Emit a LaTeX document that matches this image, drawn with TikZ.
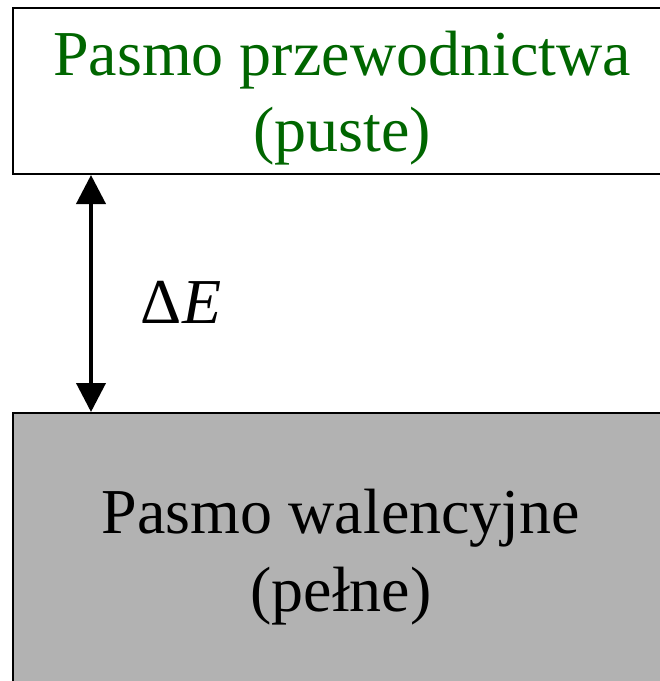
\documentclass[tikz,border=0pt]{standalone}
\usepackage{fontspec}
\setmainfont{Liberation Serif}
\usetikzlibrary{arrows.meta}
\definecolor{bandgreen}{RGB}{0,102,0}
\definecolor{bandgray}{RGB}{178,178,178}
\begin{document}
\begin{tikzpicture}[x=1pt,y=1pt,
  band/.style={draw=black, line width=2pt, anchor=north west, minimum width=660pt, inner sep=0pt},
  label/.style={anchor=base, inner sep=0pt, font=\fontsize{64}{77}\selectfont},
  gap/.style={line width=4pt, {Triangle[length=29pt,width=29pt]}-{Triangle[length=29pt,width=29pt]}}]
\useasboundingbox (0,0) rectangle (660,-681);
\clip (0,0) rectangle (660,-681);
\node[band, minimum height=166pt] (cond) at (12,-7) {};
\node[band, minimum height=290pt, fill=bandgray] (val) at (12,-412) {};
\node[label, text=bandgreen] (condA) at (342,-75) {Pasmo przewodnictwa};
\node[label, text=bandgreen] (condB) at (342,-151) {(puste)};
\node[label] (valA) at (341,-533) {Pasmo walencyjne};
\node[label] (valB) at (341,-611) {(pełne)};
\coordinate (a) at (cond.south west -| 91,0);
\coordinate (b) at (val.north west -| 91,0);
\draw[gap] (a) -- (b);
\node[label] (de) at (181,-323) {Δ\textit{E}};
\end{tikzpicture}
\end{document}
